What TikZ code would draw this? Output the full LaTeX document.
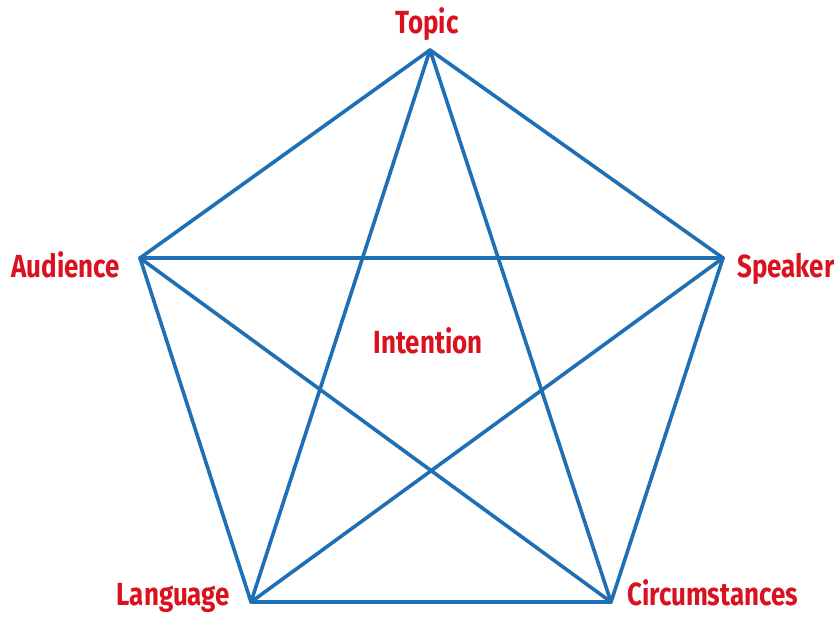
\documentclass[tikz,border=0pt]{standalone}
\usepackage{fontspec}
\setmainfont{Fira Sans}[FakeStretch=0.81,BoldFont={Fira Sans Bold}]
\definecolor{lineblue}{RGB}{31,111,180}
\definecolor{labelred}{RGB}{218,18,32}
\begin{document}
\begin{tikzpicture}[x=1pt,y=-1pt,
  edge/.style={draw=lineblue,line width=3.6pt,line join=round,line cap=round},
  lbl/.style={text=labelred,inner sep=0pt,font=\fontsize{32}{33}\selectfont\bfseries}]
\useasboundingbox (0,0) rectangle (834,622);
\coordinate (T) at (430,50);
\coordinate (A) at (140,258);
\coordinate (S) at (723,258);
\coordinate (L) at (251,602);
\coordinate (C) at (611,602);
\draw[edge] (T) -- (S) -- (C) -- (L) -- (A) -- cycle;
\draw[edge] (T) -- (L);
\draw[edge] (T) -- (C);
\draw[edge] (A) -- (S);
\draw[edge] (A) -- (C);
\draw[edge] (S) -- (L);
\node[lbl,anchor=base] (topic) at (427,33) {Topic};
\node[lbl,anchor=base east] (aud) at (120,277) {Audience};
\node[lbl,anchor=base west] (spk) at (737,277) {Speaker};
\node[lbl,anchor=base east] (lang) at (230,605) {Language};
\node[lbl,anchor=base west] (circ) at (627,605) {Circumstances};
\node[lbl,anchor=base] (int) at (428,353) {Intention};
\end{tikzpicture}
\end{document}
